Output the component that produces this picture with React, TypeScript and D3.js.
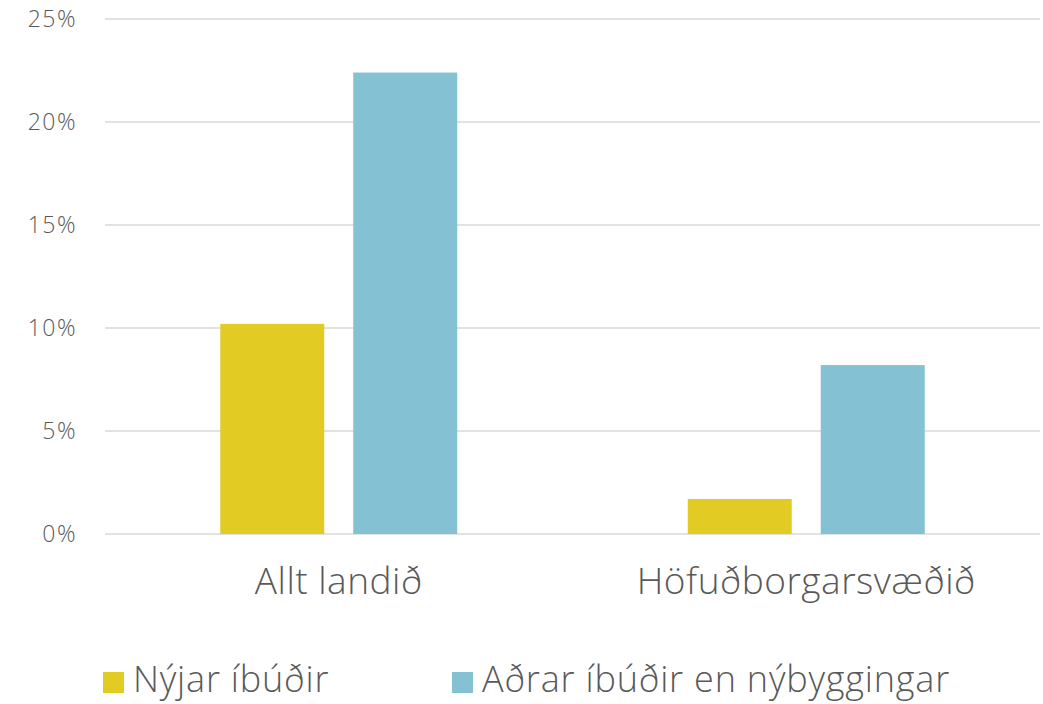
import React, { useEffect, useRef } from 'react';
import * as d3 from 'd3';

const categories = ['Allt landið', 'Höfuðborgarsvæðið'];
const series = ['Nýjar íbúðir', 'Aðrar íbúðir en nýbyggingar'];
const seriesColors = ['#e2cc24', '#84c1d3'];
const newFlats = [0.102, 0.017];
const otherFlats = [0.224, 0.082];
const yTicks = [0, 0.05, 0.1, 0.15, 0.2, 0.25];

export default function App() {
  const svgRef = useRef<SVGSVGElement>(null);
  const width = 1043;
  const height = 704;

  useEffect(() => {
    if (!svgRef.current) return;
    const svg = d3.select(svgRef.current);
    svg.selectAll('*').remove();

    const font = "'Open Sans', 'Noto Sans', sans-serif";
    const textColor = '#595959';
    const left = 105, right = 1040, top = 19, bottom = 534;

    const x0 = d3.scaleBand().domain(categories).range([left, right]).padding(0);
    const x1 = d3.scaleBand()
      .domain(series)
      .range([0, x0.bandwidth()])
      .paddingInner(29 / 133)
      .paddingOuter(0.8667);
    const y = d3.scaleLinear().domain([0, 0.25]).range([bottom, top]);

    // grid
    svg.append('g')
      .selectAll('line')
      .data(yTicks)
      .enter()
      .append('line')
      .attr('x1', left)
      .attr('x2', right)
      .attr('y1', d => y(d))
      .attr('y2', d => y(d))
      .attr('stroke', '#d9d9d9')
      .attr('stroke-width', 1.5);

    // y labels
    svg.append('g')
      .selectAll('text')
      .data(yTicks)
      .enter()
      .append('text')
      .attr('x', 77)
      .attr('y', d => y(d) + 8)
      .attr('text-anchor', 'end')
      .attr('font-family', font)
      .attr('font-weight', 300)
      .attr('font-size', 23)
      .attr('letter-spacing', 1.5)
      .attr('fill', textColor)
      .text(d => `${Math.round(d * 100)}%`);

    const rows = categories.map((c, i) => ({ cat: c, values: [newFlats[i], otherFlats[i]] }));

    const groups = svg.append('g')
      .selectAll('g')
      .data(rows)
      .enter()
      .append('g')
      .attr('transform', d => `translate(${x0(d.cat)},0)`);

    groups.selectAll('rect')
      .data(d => d.values.map((v, j) => ({ key: series[j], v, j })))
      .enter()
      .append('rect')
      .attr('x', d => x1(d.key) || 0)
      .attr('width', x1.bandwidth())
      .attr('y', d => y(d.v))
      .attr('height', d => bottom - y(d.v))
      .attr('fill', d => seriesColors[d.j]);

    // category labels
    svg.append('g')
      .selectAll('text')
      .data(categories)
      .enter()
      .append('text')
      .attr('x', d => (x0(d) || 0) + x0.bandwidth() / 2)
      .attr('y', 594)
      .attr('text-anchor', 'middle')
      .attr('font-family', font)
      .attr('font-weight', 300)
      .attr('font-size', 37)
      .attr('letter-spacing', 0.5)
      .attr('fill', textColor)
      .text(d => d);

    // legend
    const legendX = [103, 452];
    const legend = svg.append('g')
      .selectAll('g')
      .data(series)
      .enter()
      .append('g')
      .attr('transform', (d, i) => `translate(${legendX[i]},672)`);
    legend.append('rect')
      .attr('width', 21)
      .attr('height', 21)
      .attr('fill', (d, i) => seriesColors[i]);
    legend.append('text')
      .attr('x', 30)
      .attr('y', 20)
      .attr('font-family', font)
      .attr('font-weight', 300)
      .attr('font-size', 36)
      .attr('letter-spacing', 0.8)
      .attr('fill', textColor)
      .text(d => d);
  }, []);

  return (
    <svg
      ref={svgRef}
      width={width}
      height={height}
      style={{ position: 'absolute', left: 0, top: 0, background: '#fff' }}
    />
  );
}
